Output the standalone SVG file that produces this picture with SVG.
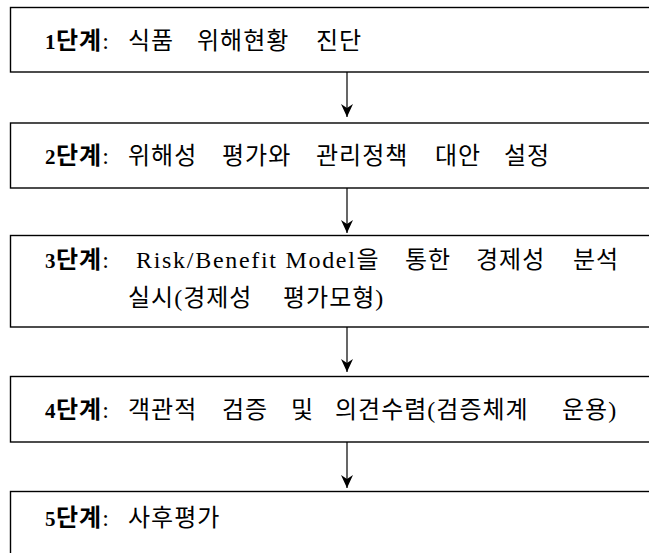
<svg xmlns="http://www.w3.org/2000/svg" width="649" height="553" viewBox="0 0 649 553">
  <style>
    .box { fill: #ffffff; stroke: #000000; stroke-width: 1.4; }
    .ko { font-family: "Noto Sans CJK KR", sans-serif; font-size: 24px; letter-spacing: 1px; fill: #000000; }
    .kob { font-family: "Noto Sans CJK KR", sans-serif; font-size: 24px; font-weight: bold; letter-spacing: 1px; }
    .num { font-family: "Liberation Serif", serif; font-size: 21px; font-weight: bold; }
    .lat { font-family: "Liberation Serif", serif; font-size: 24px; }
    .sp { font-family: "Liberation Serif", serif; font-size: 24px; letter-spacing: 1.7px; }
    .conn { stroke: #000000; stroke-width: 1.2; fill: none; }
  </style>
  <defs>
    <marker id="arrowhead" markerWidth="12" markerHeight="14" refX="6" refY="13" orient="0" markerUnits="userSpaceOnUse">
      <path d="M0,0 L6,13 L12,0 L6,4 Z" fill="#000000"/>
    </marker>
  </defs>

  <rect width="649" height="553" fill="#ffffff"/>

  <!-- connectors between stages -->
  <g id="connectors">
    <line class="conn" x1="347" y1="72" x2="347" y2="117" marker-end="url(#arrowhead)"/>
    <line class="conn" x1="347" y1="188" x2="347" y2="233" marker-end="url(#arrowhead)"/>
    <line class="conn" x1="347" y1="327" x2="347" y2="372" marker-end="url(#arrowhead)"/>
    <line class="conn" x1="347" y1="442" x2="347" y2="488" marker-end="url(#arrowhead)"/>
  </g>

  <g id="stage1">
    <rect class="box" x="10.5" y="7.5" width="700" height="64.5"/>
    <text class="ko" y="49"><tspan class="num" x="45">1</tspan><tspan class="kob" x="56">단계</tspan><tspan class="lat">:</tspan><tspan x="128">식품</tspan><tspan x="197">위해현황</tspan><tspan x="316">진단</tspan></text>
  </g>

  <g id="stage2">
    <rect class="box" x="10.5" y="123" width="700" height="65"/>
    <text class="ko" y="164"><tspan class="num" x="45">2</tspan><tspan class="kob" x="56">단계</tspan><tspan class="lat">:</tspan><tspan x="128">위해성</tspan><tspan x="222">평가와</tspan><tspan x="316">관리정책</tspan><tspan x="435">대안</tspan><tspan x="504">설정</tspan></text>
  </g>

  <g id="stage3">
    <rect class="box" x="10.5" y="235.5" width="700" height="91.5"/>
    <text class="ko" y="268"><tspan class="num" x="45">3</tspan><tspan class="kob" x="56">단계</tspan><tspan class="lat">:</tspan><tspan class="sp" x="136">Risk/Benefit Model</tspan><tspan>을</tspan><tspan x="405">통한</tspan><tspan x="476">경제성</tspan><tspan x="573">분석</tspan></text>
    <text class="ko" y="306"><tspan x="128">실시</tspan><tspan class="lat">(</tspan><tspan>경제성</tspan><tspan x="283">평가모형</tspan><tspan class="lat">)</tspan></text>
  </g>

  <g id="stage4">
    <rect class="box" x="10.5" y="376.5" width="700" height="65.5"/>
    <text class="ko" y="418"><tspan class="num" x="45">4</tspan><tspan class="kob" x="56">단계</tspan><tspan class="lat">:</tspan><tspan x="128">객관적</tspan><tspan x="222">검증</tspan><tspan x="291">및</tspan><tspan x="335">의견수렴</tspan><tspan class="lat">(</tspan><tspan>검증체계</tspan><tspan x="562">운용</tspan><tspan class="lat">)</tspan></text>
  </g>

  <g id="stage5">
    <rect class="box" x="10.5" y="491.5" width="700" height="80"/>
    <text class="ko" y="526"><tspan class="num" x="45">5</tspan><tspan class="kob" x="56">단계</tspan><tspan class="lat">:</tspan><tspan x="128">사후평가</tspan></text>
  </g>
</svg>
